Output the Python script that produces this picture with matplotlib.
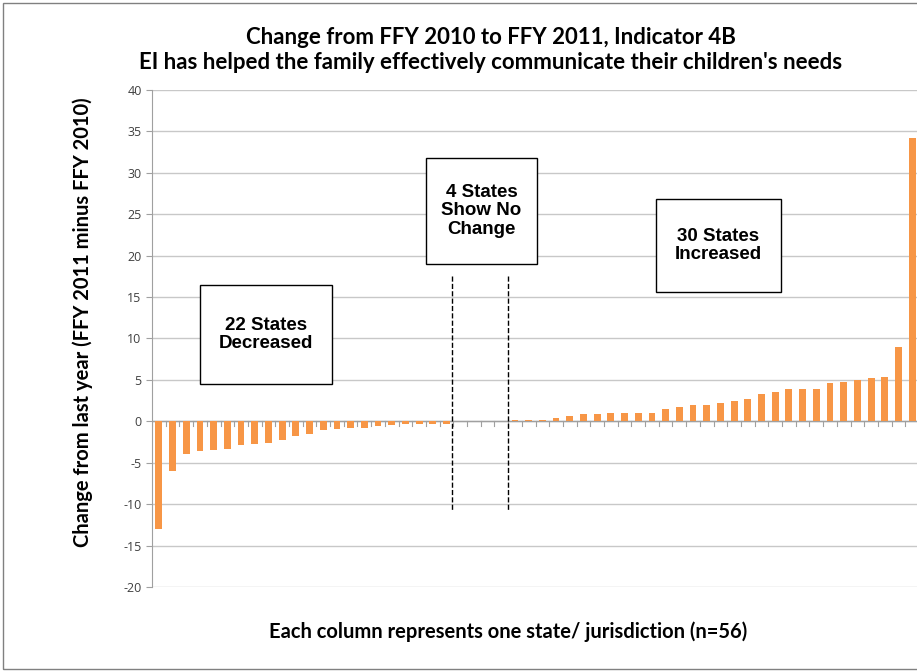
import matplotlib.pyplot as plt
import matplotlib.patches as patches
import numpy as np

# =========================================================
# DATA
# =========================================================
decreased = [-13.0, -6.0, -4.0, -3.6, -3.5, -3.4, -2.9, -2.7, -2.6, -2.2, -1.8,
             -1.5, -1.1, -0.9, -0.8, -0.8, -0.55, -0.45, -0.3, -0.3, -0.3, -0.3]
no_change = [0.0, 0.0, 0.0, 0.0]
increased = [0.2, 0.2, 0.2, 0.4, 0.6, 0.9, 0.9, 1.0, 1.0, 1.0, 1.0, 1.5, 1.7,
             2.0, 2.0, 2.2, 2.5, 2.7, 3.3, 3.6, 3.95, 3.95, 3.95, 4.6, 4.8,
             5.0, 5.2, 5.4, 9.0, 34.2]
changes = decreased + no_change + increased

y_ticks = list(range(-20, 45, 5))
title = ("Change from FFY 2010 to FFY 2011, Indicator 4B\n"
         "EI has helped the family effectively communicate their children's needs")
x_label = "Each column represents one state/ jurisdiction (n=56)"
y_label = "Change from last year (FFY 2011 minus FFY 2010)"

BAR_COLOR = "#F79646"

# =========================================================
# PLOT
# =========================================================
fig = plt.figure(figsize=(9.17, 6.71), dpi=100)
ax = fig.add_axes([0.1658, 0.1252, 0.8364, 0.7407])

x = np.arange(len(changes))
ax.bar(x, changes, width=0.5, color=BAR_COLOR, zorder=3)

ax.set_xlim(-0.5, len(changes) - 0.5)
ax.set_ylim(-20, 40)
ax.set_yticks(y_ticks)
ax.set_yticklabels([str(t) for t in y_ticks], fontsize=9, color="#404040",
                   family="Open Sans")
ax.set_xticks([])
ax.grid(axis="y", color="#C8C8C8", linewidth=1, zorder=0)
ax.tick_params(axis="y", length=4, color="#A0A0A0")
for side in ["top", "right", "bottom"]:
    ax.spines[side].set_visible(False)
ax.spines["left"].set_color("#A0A0A0")

# zero line with small category ticks
ax.axhline(0, color="#A0A0A0", linewidth=1, zorder=2)
for b in np.arange(-0.5, len(changes), 1.0):
    ax.plot([b, b], [0, -0.6], color="#A0A0A0", linewidth=0.8, zorder=2)

# annotation boxes
boxes = [
    ((2.97, 4.5), 9.7, 12.0, "22 States\nDecreased"),
    ((19.5, 19.0), 8.1, 12.8, "4 States\nShow No\nChange"),
    ((36.3, 15.6), 9.1, 11.2, "30 States\nIncreased"),
]
for (bx, by), bw, bh, label in boxes:
    ax.add_patch(patches.Rectangle((bx, by), bw, bh, facecolor="white",
                                   edgecolor="black", linewidth=1, zorder=4))
    ax.text(bx + bw / 2, by + bh / 2, label, ha="center", va="center",
            fontsize=13.5, fontweight="bold", family="Liberation Sans",
            linespacing=1.1, zorder=5)

for lx in [21.4, 25.5]:
    ax.plot([lx, lx], [17.6, -10.7], color="black", linestyle="--",
            linewidth=1, zorder=4)

fig.text(0.535, 0.925, title, ha="center", va="center", fontsize=16,
         fontweight="bold", family="Lato", linespacing=1.25)
fig.text(0.554, 0.058, x_label, ha="center", va="center", fontsize=14.5,
         fontweight="bold", family="Lato")
fig.text(0.09, 0.52, y_label, ha="center", va="center", fontsize=14.5,
         fontweight="bold", family="Lato", rotation=90)

# outer frame
fig.add_artist(patches.Rectangle((0.003, 0.003), 1.2, 0.993,
                                 transform=fig.transFigure, fill=False,
                                 edgecolor="#808080", linewidth=1))

fig.savefig("out.png", dpi=100)
